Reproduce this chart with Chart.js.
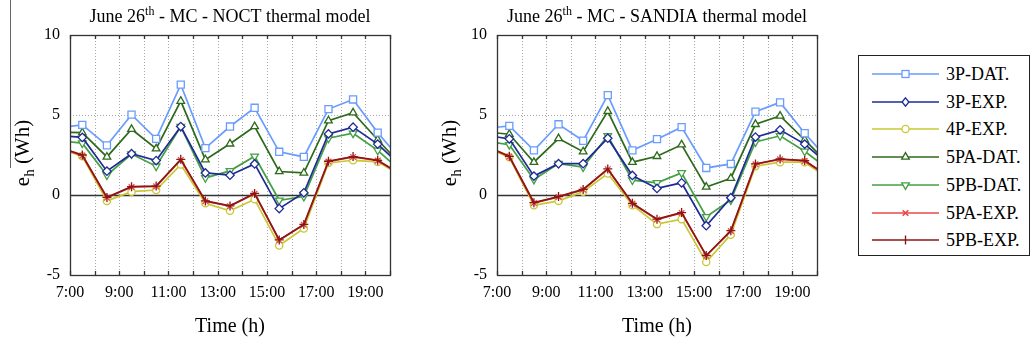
<!DOCTYPE html>
<html>
<head>
<meta charset="utf-8">
<script src="https://cdn.jsdelivr.net/npm/chart.js@4.4.1/dist/chart.umd.min.js"></script>
<style>
  html, body { margin: 0; padding: 0; background: #fff; width: 1035px; height: 346px; overflow: hidden; }
  #c1 { position: absolute; left: 0; top: 0; }
  #c2 { position: absolute; left: 427px; top: 0; }
  #edge { position: absolute; left: 10px; top: 0; width: 1px; height: 168px; background: #666; }
  #legend { position: absolute; left: 858px; top: 55px; width: 172px; height: 201px; border: 1.5px solid #222; box-sizing: border-box; font-family: 'Liberation Serif', 'Times New Roman', serif; font-size: 18px; color: #000; }
  .row { position: absolute; left: 0; height: 20px; width: 170px; }
  .row svg { position: absolute; left: 13px; top: 0; }
  .row span { position: absolute; left: 87px; top: 0; line-height: 20px; white-space: nowrap; }
</style>
</head>
<body>
<div id="edge"></div>
<canvas id="c1" width="400" height="346"></canvas>
<canvas id="c2" width="400" height="346"></canvas>
<div id="legend"></div>
<script>
// ---------------- data ----------------
const hours = [6.5, 7.5, 8.5, 9.5, 10.5, 11.5, 12.5, 13.5, 14.5, 15.5, 16.5, 17.5, 18.5, 19.5, 20.5];
const seriesNames = ['3P-DAT.', '3P-EXP.', '4P-EXP.', '5PA-DAT.', '5PB-DAT.', '5PA-EXP.', '5PB-EXP.'];

// NOCT thermal model
const noct3PDat  = [4.20, 4.38, 3.10, 5.02, 3.51, 6.90, 2.93, 4.28, 5.45, 2.70, 2.38, 5.37, 5.97, 3.90, 2.10];
const noct3PExp  = [3.72, 3.60, 1.49, 2.58, 2.15, 4.28, 1.38, 1.24, 1.94, -0.85, 0.14, 3.82, 4.24, 3.18, 1.74];
const noct4PExp  = [2.95, 2.42, -0.37, 0.21, 0.31, 1.90, -0.52, -0.99, -0.27, -3.16, -2.09, 2.00, 2.17, 2.07, 1.19];
const noct5PADat = [3.92, 3.90, 2.38, 4.11, 2.89, 5.87, 2.21, 3.20, 4.28, 1.47, 1.38, 4.65, 5.14, 3.45, 1.80];
const noct5PBDat = [3.40, 3.24, 1.24, 2.56, 1.80, 4.28, 1.07, 1.51, 2.42, -0.33, -0.10, 3.55, 3.86, 2.79, 1.41];
const noct5PAExp = [3.00, 2.46, -0.17, 0.50, 0.54, 2.19, -0.39, -0.70, 0.08, -2.83, -1.86, 2.09, 2.38, 2.15, 1.21];
const noct5PBExp = [3.02, 2.50, -0.15, 0.52, 0.56, 2.23, -0.37, -0.68, 0.10, -2.81, -1.84, 2.11, 2.40, 2.17, 1.23];

// SANDIA thermal model
const sandia3PDat  = [4.15, 4.32, 2.79, 4.42, 3.39, 6.24, 2.79, 3.49, 4.24, 1.69, 1.94, 5.21, 5.79, 3.86, 2.14];
const sandia3PExp  = [3.74, 3.51, 1.18, 1.96, 1.96, 3.55, 1.22, 0.41, 0.76, -1.92, -0.17, 3.62, 4.07, 3.18, 1.86];
const sandia4PExp  = [3.00, 2.36, -0.64, -0.37, 0.21, 1.34, -0.64, -1.82, -1.51, -4.19, -2.48, 1.80, 2.05, 2.05, 1.00];
const sandia5PADat = [3.95, 3.80, 2.05, 3.53, 2.71, 5.23, 2.05, 2.42, 3.14, 0.50, 1.05, 4.42, 4.94, 3.45, 1.89];
const sandia5PBDat = [3.38, 3.14, 0.97, 1.96, 1.74, 3.70, 0.93, 0.76, 1.38, -1.36, -0.31, 3.31, 3.70, 2.73, 1.57];
const sandia5PAExp = [3.08, 2.40, -0.50, -0.12, 0.33, 1.61, -0.54, -1.53, -1.12, -3.80, -2.25, 1.92, 2.23, 2.13, 1.11];
const sandia5PBExp = [3.10, 2.42, -0.48, -0.10, 0.35, 1.63, -0.52, -1.51, -1.10, -3.78, -2.23, 1.94, 2.25, 2.15, 1.13];

const xMin = 7, xMax = 20;
const xLabelHours = [7, 9, 11, 13, 15, 17, 19];
const yTicks = [-5, 0, 5, 10];

const titleNoct = ['June 26', 'th', ' - MC - NOCT thermal model'];
const titleSandia = ['June 26', 'th', ' - MC - SANDIA thermal model'];
const yTitle = ['e', 'h', ' (Wh)'];
const xTitle = 'Time (h)';

// ---------------- styles ----------------
const colors = ['#6a9cff', '#1f2a96', '#c8c834', '#2d6a1b', '#43a043', '#e94848', '#8c1616'];
const pStyles = ['rect', 'rectRot', 'circle', 'triangle', 'triangle', 'crossRot', 'cross'];
const pRadius = [5, 4.2, 3.6, 4.4, 4.4, 4, 4.5];
const pRotation = [0, 0, 0, 0, 180, 0, 0];
const drawOrder = [3, 4, 2, 5, 6, 1, 0];
const FONT = "'Liberation Serif', 'Times New Roman', serif";

function buildDatasets(seriesList) {
  return seriesList.map((vals, i) => ({
    label: seriesNames[i],
    data: hours.map((h, k) => ({ x: h, y: vals[k] })),
    borderColor: colors[i],
    backgroundColor: colors[i],
    pointBackgroundColor: '#fff',
    pointBorderColor: colors[i],
    pointStyle: pStyles[i],
    pointRadius: pRadius[i],
    pointRotation: pRotation[i],
    pointBorderWidth: 1.3,
    borderWidth: 1.7,
    tension: 0,
    clip: 0,
    order: drawOrder[i]
  }));
}

const framePlugin = {
  id: 'frame',
  beforeDatasetsDraw(chart) {
    const { ctx, chartArea: a, scales: { x, y } } = chart;
    ctx.save();
    ctx.strokeStyle = '#a8a8a8';
    ctx.lineWidth = 1;
    ctx.setLineDash([1, 2]);
    x.ticks.forEach(t => {
      const px = Math.round(x.getPixelForValue(t.value)) + 0.5;
      if (px > a.left + 1 && px < a.right - 1) {
        ctx.beginPath(); ctx.moveTo(px, a.top); ctx.lineTo(px, a.bottom); ctx.stroke();
      }
    });
    y.ticks.forEach(t => {
      if (t.value === 0) return;
      const py = Math.round(y.getPixelForValue(t.value)) + 0.5;
      if (py > a.top + 1 && py < a.bottom - 1) {
        ctx.beginPath(); ctx.moveTo(a.left, py); ctx.lineTo(a.right, py); ctx.stroke();
      }
    });
    ctx.setLineDash([]);
    ctx.strokeStyle = '#333';
    ctx.lineWidth = 1.3;
    const p0 = Math.round(y.getPixelForValue(0)) + 0.5;
    ctx.beginPath(); ctx.moveTo(a.left, p0); ctx.lineTo(a.right, p0); ctx.stroke();
    ctx.restore();
  },
  afterDatasetsDraw(chart) {
    const { ctx, chartArea: a, scales: { x } } = chart;
    ctx.save();
    ctx.strokeStyle = '#333';
    ctx.lineWidth = 1.3;
    ctx.strokeRect(Math.round(a.left) + 0.5, Math.round(a.top) + 0.5, Math.round(a.right - a.left), Math.round(a.bottom - a.top));
    x.ticks.forEach(t => {
      const px = Math.round(x.getPixelForValue(t.value)) + 0.5;
      ctx.beginPath();
      ctx.moveTo(px, a.top); ctx.lineTo(px, a.top + 4);
      ctx.moveTo(px, a.bottom); ctx.lineTo(px, a.bottom - 4);
      ctx.stroke();
    });
    ctx.restore();
  },
  afterDraw(chart, args, opts) {
    const { ctx, chartArea: a } = chart;
    ctx.save();
    ctx.fillStyle = '#000';
    ctx.textBaseline = 'alphabetic';
    // title with superscript
    const tp = opts.title;
    const big = '18px ' + FONT, small = '12px ' + FONT;
    ctx.font = big; const w1 = ctx.measureText(tp[0]).width; const w3 = ctx.measureText(tp[2]).width;
    ctx.font = small; const w2 = ctx.measureText(tp[1]).width;
    let sx = (a.left + a.right) / 2 - (w1 + w2 + w3) / 2;
    const by = 22;
    ctx.textAlign = 'left';
    ctx.font = big; ctx.fillText(tp[0], sx, by);
    ctx.font = small; ctx.fillText(tp[1], sx + w1, by - 7);
    ctx.font = big; ctx.fillText(tp[2], sx + w1 + w2, by);
    // x title
    ctx.font = '20px ' + FONT;
    ctx.textAlign = 'center';
    ctx.textBaseline = 'middle';
    ctx.fillText(xTitle, (a.left + a.right) / 2, 327);
    // y title with subscript
    const yb = '21px ' + FONT, ys = '15px ' + FONT;
    ctx.font = yb; const e1 = ctx.measureText(yTitle[0]).width; const e3 = ctx.measureText(yTitle[2]).width;
    ctx.font = ys; const e2 = ctx.measureText(yTitle[1]).width;
    const tot = e1 + e2 + e3;
    ctx.translate(opts.yTitleX, (a.top + a.bottom) / 2 - 2);
    ctx.rotate(-Math.PI / 2);
    ctx.textAlign = 'left';
    ctx.textBaseline = 'middle';
    ctx.font = yb; ctx.fillText(yTitle[0], -tot / 2, 0);
    ctx.font = ys; ctx.fillText(yTitle[1], -tot / 2 + e1, 7);
    ctx.font = yb; ctx.fillText(yTitle[2], -tot / 2 + e1 + e2, 0);
    ctx.restore();
  }
};

function makeChart(id, seriesList, title) {
  return new Chart(document.getElementById(id), {
    type: 'line',
    data: { datasets: buildDatasets(seriesList) },
    plugins: [framePlugin],
    options: {
      responsive: false,
      animation: false,
      events: [],
      layout: { padding: { top: 35, right: 10, left: 0, bottom: 0 } },
      plugins: {
        legend: { display: false },
        tooltip: { enabled: false },
        title: { display: false },
        frame: { title: title, yTitleX: 23 }
      },
      scales: {
        x: {
          type: 'linear',
          min: xMin, max: xMax,
          grid: { display: false, drawTicks: false },
          border: { display: false },
          ticks: {
            stepSize: 1,
            autoSkip: false,
            maxRotation: 0,
            padding: 8,
            color: '#000',
            font: { family: FONT, size: 16 },
            callback: v => xLabelHours.includes(v) ? v + ':00' : ''
          },
          afterFit: s => { s.height = 71; }
        },
        y: {
          type: 'linear',
          min: yTicks[0], max: yTicks[yTicks.length - 1],
          grid: { display: false, drawTicks: false },
          border: { display: false },
          afterBuildTicks: s => { s.ticks = yTicks.map(v => ({ value: v })); },
          ticks: {
            padding: 10,
            color: '#000',
            font: { family: FONT, size: 16 },
            callback: v => String(v)
          },
          afterFit: s => { s.width = 70; }
        }
      }
    }
  });
}

makeChart('c1', [noct3PDat, noct3PExp, noct4PExp, noct5PADat, noct5PBDat, noct5PAExp, noct5PBExp], titleNoct);
makeChart('c2', [sandia3PDat, sandia3PExp, sandia4PExp, sandia5PADat, sandia5PBDat, sandia5PAExp, sandia5PBExp], titleSandia);

// ---------------- legend ----------------
function markerSvg(i, cx, cy) {
  const c = colors[i], sw = 1.3;
  switch (pStyles[i]) {
    case 'rect': return `<rect x="${cx - 3.5}" y="${cy - 3.5}" width="7" height="7" fill="#fff" stroke="${c}" stroke-width="${sw}"/>`;
    case 'rectRot': return `<polygon points="${cx},${cy - 4.2} ${cx + 3.4},${cy} ${cx},${cy + 4.2} ${cx - 3.4},${cy}" fill="#fff" stroke="${c}" stroke-width="${sw}"/>`;
    case 'circle': return `<circle cx="${cx}" cy="${cy}" r="3.6" fill="#fff" stroke="${c}" stroke-width="${sw}"/>`;
    case 'triangle':
      if (pRotation[i] === 180) return `<polygon points="${cx - 3.8},${cy - 2.2} ${cx + 3.8},${cy - 2.2} ${cx},${cy + 4.4}" fill="#fff" stroke="${c}" stroke-width="${sw}"/>`;
      return `<polygon points="${cx - 3.8},${cy + 2.2} ${cx + 3.8},${cy + 2.2} ${cx},${cy - 4.4}" fill="#fff" stroke="${c}" stroke-width="${sw}"/>`;
    case 'crossRot': return `<path d="M${cx - 2.8} ${cy - 2.8} L${cx + 2.8} ${cy + 2.8} M${cx + 2.8} ${cy - 2.8} L${cx - 2.8} ${cy + 2.8}" stroke="${c}" stroke-width="1.6"/>`;
    case 'cross': return `<path d="M${cx} ${cy - 4.5} L${cx} ${cy + 4.5}" stroke="${c}" stroke-width="1.4"/>`;
  }
  return '';
}
const legendEl = document.getElementById('legend');
seriesNames.forEach((name, i) => {
  const row = document.createElement('div');
  row.className = 'row';
  row.style.top = (8 + i * 27.7) + 'px';
  row.innerHTML = `<svg width="70" height="20" viewBox="0 0 70 20"><line x1="0" y1="10" x2="67" y2="10" stroke="${colors[i]}" stroke-width="1.7"/>${markerSvg(i, 33.5, 10)}</svg><span>${name}</span>`;
  legendEl.appendChild(row);
});
</script>
</body>
</html>
